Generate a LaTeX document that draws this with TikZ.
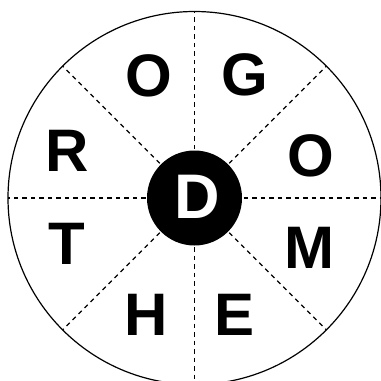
\documentclass[tikz,border=0pt]{standalone}
\usepackage{fontspec}
\setmainfont{Liberation Sans}
\usetikzlibrary{calc}
\begin{document}
\begin{tikzpicture}[x=1pt,y=-1pt,
  letter/.style={inner sep=0pt,font=\fontsize{60}{60}\selectfont\bfseries},
  spoke/.style={dash pattern=on 4.5pt off 4pt,line width=1.1pt},
  rim/.style={line width=1.2pt}]
\useasboundingbox (0,0) rectangle (381,381);
\coordinate (c) at (194.5,198);
\draw[rim] (c) circle[radius=186.5];
\node[circle,fill=black,minimum size=95pt,inner sep=0pt] (hub) at (c) {};
\foreach \a in {0,45,...,315}{
  \draw[spoke] ($(c)+(\a:49)$) -- ($(c)+(\a:186.5)$);
}
\node[letter] (o1) at (149,76) {O};
\node[letter] (g) at (245,75) {G};
\node[letter] (o2) at (311,156) {O};
\node[letter] (m) at (309,248) {M};
\node[letter] (e) at (235,315) {E};
\node[letter] (h) at (146,315) {H};
\node[letter] (t) at (67,244) {T};
\node[letter] (r) at (67,151) {R};
\node[inner sep=0pt,text=white,font=\fontsize{63}{63}\selectfont\bfseries] (d) at (197,197) {D};
\end{tikzpicture}
\end{document}
